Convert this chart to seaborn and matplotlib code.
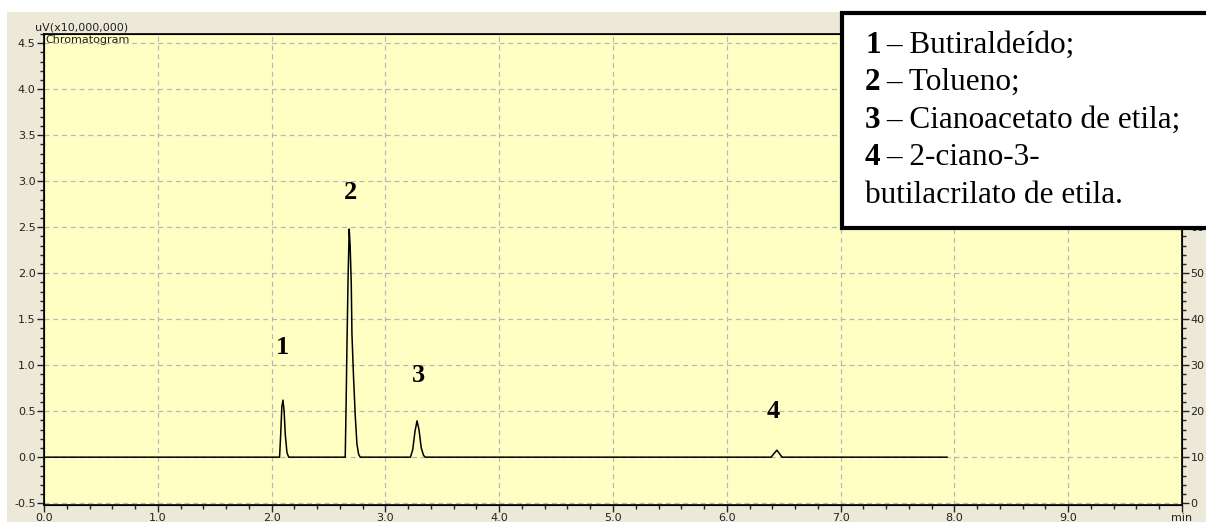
import numpy as np
import pandas as pd
import matplotlib
matplotlib.use("Agg")
import matplotlib.pyplot as plt
import seaborn as sns
from matplotlib.patches import Rectangle
from matplotlib.ticker import MultipleLocator, FixedLocator, FixedFormatter

# chromatogram trace (time in min, signal in uV x10,000,000)
tempo = [0.00, 2.070, 2.080, 2.090, 2.100, 2.110, 2.120, 2.135, 2.150,
         2.647, 2.655, 2.662, 2.672, 2.682, 2.690, 2.700, 2.706, 2.720, 2.735, 2.750, 2.765, 2.779,
         3.220, 3.240, 3.260, 3.278, 3.295, 3.315, 3.335, 3.350,
         6.390, 6.415, 6.440, 6.462, 6.485, 7.935]
sinal = [0.0, 0.0, 0.25, 0.55, 0.62, 0.50, 0.25, 0.05, 0.0,
         0.0, 0.60, 1.19, 1.95, 2.48, 2.30, 1.89, 1.34, 0.87, 0.45, 0.14, 0.03, 0.0,
         0.0, 0.08, 0.28, 0.395, 0.30, 0.10, 0.02, 0.0,
         0.0, 0.04, 0.076, 0.04, 0.0, 0.0]

picos = ["1", "2", "3", "4"]
pico_x = [2.10, 2.69, 3.29, 6.41]
pico_y = [1.19, 2.88, 0.886, 0.50]

legenda_num = ["1", "2", "3", "4", ""]
legenda_txt = ["– Butiraldeído;", "– Tolueno;", "– Cianoacetato de etila;",
               "– 2-ciano-3-", "butilacrilato de etila."]

df = pd.DataFrame({"t": tempo, "uV": sinal})

W, H = 1206, 522
fig = plt.figure(figsize=(W / 100, H / 100), dpi=100, facecolor="white")

def fx(px):
    return px / W

def fy(py):
    return 1 - py / H

# beige window background
fig.patches.append(Rectangle((fx(7), 0), 1, fy(12), transform=fig.transFigure,
                             facecolor="#ECE9D8", edgecolor="none", zorder=-10))

ax = fig.add_axes([fx(44), fy(505), fx(1182) - fx(44), fy(34) - fy(505)])
ax.set_facecolor("#FFFFC4")

sns.lineplot(data=df, x="t", y="uV", ax=ax, color="black", linewidth=1.1)

ax.set_xlim(0, 10)
ax.set_ylim(-0.52, 4.6)
ax.set_xlabel("")
ax.set_ylabel("")

ax.xaxis.set_major_locator(FixedLocator(np.arange(0, 11, 1.0)))
ax.xaxis.set_major_formatter(FixedFormatter([f"{v:.1f}" for v in range(10)] + ["min"]))
ax.xaxis.set_minor_locator(MultipleLocator(0.2))
ax.yaxis.set_major_locator(MultipleLocator(0.5))
ax.yaxis.set_minor_locator(MultipleLocator(0.1))
ax.yaxis.set_major_formatter(matplotlib.ticker.FormatStrFormatter("%.1f"))

ax.tick_params(which="major", length=5, width=1, labelsize=8, colors="#222222", pad=1)
ax.tick_params(which="minor", length=3, width=1, colors="#222222")
ax.grid(True, which="major", color="#B8B8B8", linestyle=(0, (4, 3)), linewidth=0.9)
for s in ax.spines.values():
    s.set_color("black")
    s.set_linewidth(1.2)

ax2 = ax.twinx()
ax2.set_ylim((-0.52 + 0.5) * 20, (4.6 + 0.5) * 20)
ax2.yaxis.set_major_locator(FixedLocator(np.arange(0, 100, 10)))
ax2.yaxis.set_minor_locator(MultipleLocator(2))
ax2.yaxis.set_major_formatter(matplotlib.ticker.FormatStrFormatter("%d"))
ax2.tick_params(which="major", length=5, width=1, labelsize=8, colors="#222222", pad=1)
ax2.tick_params(which="minor", length=3, width=1, colors="#222222")

ax.text(-0.008, 1.003, "uV(x10,000,000)", transform=ax.transAxes, fontsize=8,
        ha="left", va="bottom", color="#222222")
ax.text(0.001, 0.997, "Chromatogram", transform=ax.transAxes, fontsize=8,
        ha="left", va="top", color="#222222")

for lab, x, y in zip(picos, pico_x, pico_y):
    ax.text(x, y, lab, fontsize=19, fontweight="bold", family="Liberation Serif",
            ha="center", va="center", color="black")

# legend box
fig.patches.append(Rectangle((fx(842), fy(228)), fx(1212) - fx(842), fy(13) - fy(228),
                             transform=fig.transFigure, facecolor="white",
                             edgecolor="black", linewidth=3, zorder=10))
base = [53, 90, 128, 165, 203]
for num, txt, b in zip(legenda_num, legenda_txt, base):
    if num:
        fig.text(fx(865), fy(b), num, fontsize=22.5, fontweight="bold",
                 family="Liberation Serif", ha="left", va="baseline", zorder=11)
        fig.text(fx(886), fy(b), txt, fontsize=22.5, family="Liberation Serif",
                 ha="left", va="baseline", zorder=11)
    else:
        fig.text(fx(865), fy(b), txt, fontsize=22.5, family="Liberation Serif",
                 ha="left", va="baseline", zorder=11)

fig.savefig("out.png", dpi=100, facecolor=fig.get_facecolor())
